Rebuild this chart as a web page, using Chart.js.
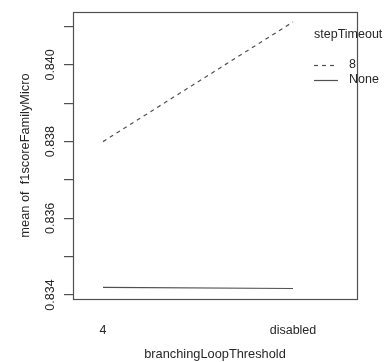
<!DOCTYPE html>
<html>
<head>
<meta charset="utf-8">
<script src="https://cdn.jsdelivr.net/npm/chart.js@4"></script>
<style>
  html, body { margin: 0; padding: 0; background: #fff; }
  #wrap { width: 384px; height: 362px; position: relative; }
</style>
</head>
<body>
<div id="wrap"><canvas id="chart"></canvas></div>
<script>
// interaction plot: mean of f1scoreFamilyMicro by branchingLoopThreshold x stepTimeout
const categories = ["4", "disabled"];
const seriesNames = ["8", "None"];
const values8 = [0.8380, 0.84112];
const valuesNone = [0.83420, 0.83417];
const yTicks = [0.834, 0.835, 0.836, 0.837, 0.838, 0.839, 0.840, 0.841];
const yLabels = ["0.834", "", "0.836", "", "0.838", "", "0.840", ""];

const FONT = "Liberation Sans, Arial, sans-serif";
const INK = "#262626";
const LINE = "#505050";

const toPoints = (vals) => vals.map((v, i) => ({ x: i + 1, y: v }));

// box, rotated y labels, axis titles, legend
const decorPlugin = {
  id: "decor",
  afterDraw(chart) {
    const { ctx, chartArea: a, scales } = chart;
    ctx.save();
    ctx.strokeStyle = LINE;
    ctx.lineWidth = 1.2;
    ctx.strokeRect(a.left + 0.5, a.top + 0.5, a.right - a.left, a.bottom - a.top);

    ctx.fillStyle = INK;
    ctx.font = "12.5px " + FONT;
    ctx.textAlign = "center";
    ctx.textBaseline = "middle";
    yTicks.forEach((v, i) => {
      if (!yLabels[i]) return;
      const y = scales.y.getPixelForValue(v);
      ctx.save();
      ctx.translate(51, y);
      ctx.rotate(-Math.PI / 2);
      ctx.fillText(yLabels[i], 0, 0);
      ctx.restore();
    });

    ctx.font = "12.8px " + FONT;
    ctx.save();
    ctx.translate(25, (a.top + a.bottom) / 2);
    ctx.rotate(-Math.PI / 2);
    ctx.fillText("mean of  f1scoreFamilyMicro", 0, 0);
    ctx.restore();
    ctx.fillText("branchingLoopThreshold", (a.left + a.right) / 2, 354);

    // legend
    ctx.textAlign = "left";
    ctx.font = "12.5px " + FONT;
    ctx.fillText("stepTimeout", 314, 35);
    const dashes = [[4, 4], []];
    seriesNames.forEach((name, i) => {
      const y = 65 + i * 15;
      ctx.setLineDash(dashes[i]);
      ctx.beginPath();
      ctx.moveTo(314, y + 0.5);
      ctx.lineTo(338, y + 0.5);
      ctx.stroke();
      ctx.setLineDash([]);
      ctx.fillText(name, 349, y);
    });
    ctx.restore();
  },
};

new Chart(document.getElementById("chart"), {
  type: "line",
  data: {
    datasets: [
      {
        label: seriesNames[0],
        data: toPoints(values8),
        borderColor: LINE,
        borderWidth: 1.2,
        borderDash: [4, 4],
        pointRadius: 0,
        tension: 0,
      },
      {
        label: seriesNames[1],
        data: toPoints(valuesNone),
        borderColor: LINE,
        borderWidth: 1.2,
        pointRadius: 0,
        tension: 0,
      },
    ],
  },
  plugins: [decorPlugin],
  options: {
    responsive: true,
    maintainAspectRatio: false,
    animation: false,
    layout: { padding: { left: 0, right: 27, top: 12, bottom: 0 } },
    plugins: { legend: { display: false }, tooltip: { enabled: false } },
    scales: {
      x: {
        type: "linear",
        min: 0.842,
        max: 2.337,
        afterBuildTicks: (s) => { s.ticks = [{ value: 1 }, { value: 2 }]; },
        afterFit: (s) => { s.height = 63; },
        grid: { display: false },
        border: { display: false },
        ticks: {
          padding: 16,
          color: INK,
          font: { family: FONT, size: 12.5 },
          maxRotation: 0,
          callback: (v) => categories[v - 1] ?? "",
        },
      },
      y: {
        type: "linear",
        min: 0.833896,
        max: 0.84138,
        afterBuildTicks: (s) => { s.ticks = yTicks.map((v) => ({ value: v })); },
        afterFit: (s) => { s.width = 73; },
        border: { display: false },
        grid: {
          drawOnChartArea: false,
          drawTicks: true,
          tickLength: 9,
          lineWidth: 1.2,
          color: LINE,
        },
        ticks: { display: false },
      },
    },
  },
});
</script>
</body>
</html>
